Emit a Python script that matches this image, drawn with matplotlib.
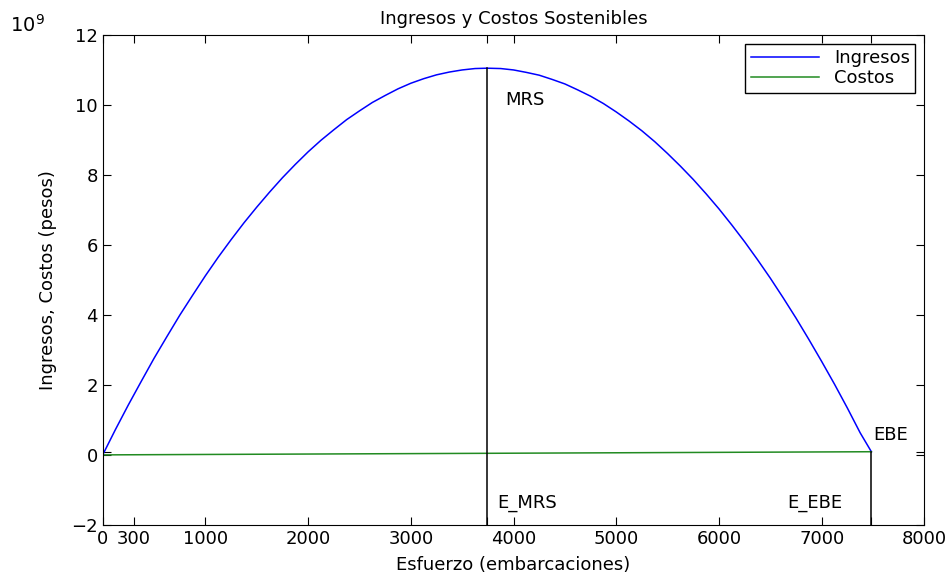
import numpy as np
import matplotlib
matplotlib.use('Agg')
import matplotlib.pyplot as plt

plt.rcParams['font.family'] = ['DejaVu Sans']

# esfuerzo (embarcaciones) y valores (x 10^9 pesos)
esfuerzo = [0, 125, 250, 375, 500, 625, 750, 875, 1000, 1125, 1250, 1375,
            1500, 1625, 1750, 1875, 2000, 2125, 2250, 2375, 2500, 2625, 2750,
            2875, 3000, 3125, 3250, 3375, 3500, 3625, 3742, 3875, 4000, 4125,
            4250, 4375, 4500, 4625, 4750, 4875, 5000, 5125, 5250, 5375, 5500,
            5625, 5750, 5875, 6000, 6125, 6250, 6375, 6500, 6625, 6750, 6875,
            7000, 7125, 7250, 7375, 7484]
ingresos = [0.0, 0.73, 1.43, 2.10, 2.76, 3.38, 3.99, 4.56, 5.12, 5.65, 6.15,
            6.63, 7.08, 7.51, 7.92, 8.30, 8.66, 8.99, 9.29, 9.58, 9.83, 10.07,
            10.27, 10.46, 10.62, 10.75, 10.86, 10.94, 11.00, 11.04, 11.05,
            11.04, 11.00, 10.93, 10.85, 10.73, 10.60, 10.43, 10.25, 10.04,
            9.80, 9.54, 9.26, 8.95, 8.61, 8.25, 7.87, 7.46, 7.03, 6.57, 6.09,
            5.58, 5.05, 4.49, 3.91, 3.30, 2.67, 2.02, 1.34, 0.63, 0.09]
esf_costos = [0, 7484]
costos = [0.0, 0.09]

E_MRS = 3742
MRS = 11.05
E_EBE = 7484
EBE = 0.09

xticks = [0, 300, 1000, 2000, 3000, E_MRS, 4000, 5000, 6000, 7000, E_EBE, 8000]
xlabels = ['0', '300', '1000', '2000', '3000', '', '4000', '5000', '6000',
           '7000', '', '8000']
yticks = [-2, 0, EBE, 2, 4, 6, 8, 10, 12]
ylabels = ['\u22122', '0', '', '2', '4', '6', '8', '10', '12']

fs = 13

fig = plt.figure(figsize=(9.51, 5.73), dpi=100)
ax = fig.add_axes([0.108, 0.084, 0.864, 0.855])

ax.plot(esfuerzo, ingresos, color='blue', lw=1.1, label='Ingresos')
ax.plot(esf_costos, costos, color='#228B22', lw=1.1, label='Costos')
ax.plot([E_MRS, E_MRS], [-2, MRS], color='black', lw=1.1)
ax.plot([E_EBE, E_EBE], [-2, EBE], color='black', lw=1.1)

ax.text(3918, 10.14, 'MRS', fontsize=fs, va='center')
ax.text(3840, -1.37, 'E_MRS', fontsize=fs, va='center')
ax.text(6667, -1.37, 'E_EBE', fontsize=fs, va='center')
ax.text(7505, 0.57, 'EBE', fontsize=fs, va='center')

ax.set_xlim(0, 8000)
ax.set_ylim(-2, 12)
ax.set_xticks(xticks)
ax.set_xticklabels(xlabels)
ax.set_yticks(yticks)
ax.set_yticklabels(ylabels)
ax.tick_params(direction='in', top=True, right=True, labelsize=fs, length=6)
ax.set_xlabel('Esfuerzo (embarcaciones)', fontsize=fs, labelpad=6)
ax.set_ylabel('Ingresos, Costos (pesos)', fontsize=fs, labelpad=10)
ax.set_title('Ingresos y Costos Sostenibles', fontsize=fs, pad=8)
fig.text(0.010, 0.945, r'10$^{\mathregular{9}}$', fontsize=14)

leg = ax.legend(loc='upper right', fontsize=fs, fancybox=False, framealpha=1,
                edgecolor='black', handlelength=3.8, borderaxespad=0.5,
                borderpad=0.3, labelspacing=0.1)
leg.get_frame().set_linewidth(1.0)

fig.savefig('out.png')
